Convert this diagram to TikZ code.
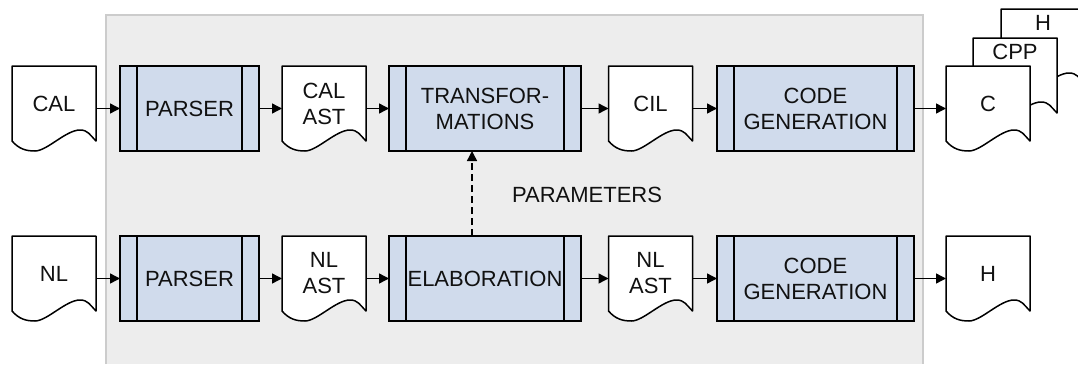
\documentclass[tikz,border=0pt]{standalone}
\usepackage{fontspec}
\setmainfont{Liberation Sans}
\usetikzlibrary{arrows.meta,calc}
\pgfdeclarelayer{bglayer}
\pgfdeclarelayer{doclayer}
\pgfsetlayers{bglayer,doclayer,main}
\definecolor{bgfill}{HTML}{EDEDED}
\definecolor{bgline}{HTML}{CCCCCC}
\definecolor{procfill}{HTML}{D0DBEC}
\definecolor{txt}{HTML}{111111}
\tikzset{
  every node/.style={font=\fontsize{22}{26}\selectfont, text=txt, align=center},
  proc/.style={draw=black, line width=1.5pt, fill=procfill, minimum height=85pt, inner sep=0pt, outer sep=0pt,
    path picture={\draw[line width=1.5pt] ([xshift=17pt]path picture bounding box.north west) -- ([xshift=17pt]path picture bounding box.south west);
                  \draw[line width=1.5pt] ([xshift=-17pt]path picture bounding box.north east) -- ([xshift=-17pt]path picture bounding box.south east);}},
  docnode/.style={minimum width=84pt, minimum height=75pt, inner sep=0pt, outer sep=0pt},
  docline/.style={draw=black, line width=1.5pt, fill=white, line join=round},
  arr/.style={draw=black, line width=1.4pt, -{Triangle[length=10pt,width=10pt]}},
  dasharr/.style={arr, dash pattern=on 7pt off 4pt},
}
\newcommand\docoutline[1]{%
  \begin{pgfonlayer}{doclayer}
  \draw[docline] (#1.north east) -- (#1.north west) -- (#1.south west)
    .. controls +(7,8) and +(-9,0) .. ($(#1.south west)+(23,10)$)
    .. controls +(12,0) and +(-14,0) .. ($(#1.south west)+(68,-11)$)
    .. controls +(8,0) and +(-6,-6) .. (#1.south east) -- cycle;
  \end{pgfonlayer}}
\begin{document}
\begin{tikzpicture}[x=1pt,y=-1pt]
\useasboundingbox (0,0) rectangle (1078,364);
\begin{pgfonlayer}{bglayer}
\fill[bgfill] (106,15) rectangle (923,364);
\draw[bgline, line width=1.6pt] (106,364) -- (106,15) -- (923,15) -- (923,364);
\end{pgfonlayer}

% top row
\node[docnode] (cal) at (54,103.5) {CAL};
\node[proc, minimum width=139pt] (parse1) at (189.5,108.5) {PARSER};
\node[docnode] (calast) at (324,103.5) {CAL\\AST};
\node[proc, minimum width=192pt] (trans) at (485,108.5) {TRANSFOR-\\MATIONS};
\node[docnode] (cil) at (650.5,103.5) {CIL};
\node[proc, minimum width=197pt] (cg1) at (815.5,108.5) {CODE\\GENERATION};
\node[docnode, label={[inner sep=0pt, label distance=-21.8pt]north:H}] (hback) at (1043,46.5) {};
\node[docnode, label={[inner sep=0pt, label distance=-21.8pt]north:CPP}] (cpp) at (1015,75.5) {};
\node[docnode] (c) at (988,103.5) {C};

% bottom row
\node[docnode] (nl) at (54,273.5) {NL};
\node[proc, minimum width=139pt] (parse2) at (189.5,278.5) {PARSER};
\node[docnode] (nlast1) at (324,273.5) {NL\\AST};
\node[proc, minimum width=192pt] (elab) at (485,278.5) {ELABORATION};
\node[docnode] (nlast2) at (650.5,273.5) {NL\\AST};
\node[proc, minimum width=197pt] (cg2) at (815.5,278.5) {CODE\\GENERATION};
\node[docnode] (hout) at (988,273.5) {H};

\node (params) at (587,195) {PARAMETERS};

\docoutline{hback}
\docoutline{cpp}
\docoutline{c}
\docoutline{cal}
\docoutline{calast}
\docoutline{cil}
\docoutline{nl}
\docoutline{nlast1}
\docoutline{nlast2}
\docoutline{hout}

% connectors top
\draw[arr] (cal.east |- parse1) -- (parse1.west);
\draw[arr] (parse1.east) -- (parse1.east -| calast.west);
\draw[arr] (calast.east |- trans) -- (trans.west);
\draw[arr] (trans.east) -- (trans.east -| cil.west);
\draw[arr] (cil.east |- cg1) -- (cg1.west);
\draw[arr] (cg1.east) -- (cg1.east -| c.west);
% connectors bottom
\draw[arr] (nl.east |- parse2) -- (parse2.west);
\draw[arr] (parse2.east) -- (parse2.east -| nlast1.west);
\draw[arr] (nlast1.east |- elab) -- (elab.west);
\draw[arr] (elab.east) -- (elab.east -| nlast2.west);
\draw[arr] (nlast2.east |- cg2) -- (cg2.west);
\draw[arr] (cg2.east) -- (cg2.east -| hout.west);
% parameters
\draw[dasharr] ([xshift=-13pt]elab.north) -- ([xshift=-13pt]trans.south);
\end{tikzpicture}
\end{document}
